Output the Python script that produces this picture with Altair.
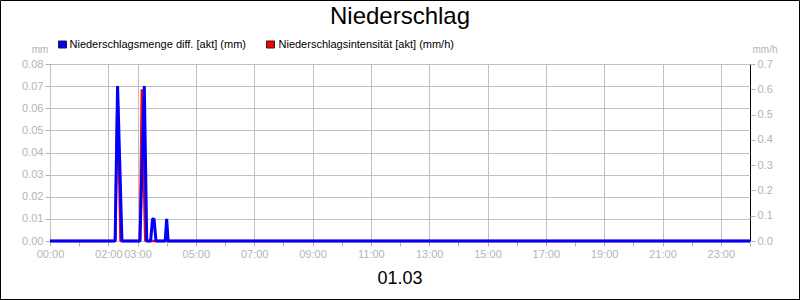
import altair as alt
import pandas as pd

# ---- data ----
blue_times = ["00:00", "02:14", "02:19", "02:28", "03:05", "03:14", "03:19", "03:27",
              "03:31", "03:34", "03:38", "03:57", "04:00", "04:03", "24:00"]
blue_values = [0, 0, 0.07, 0, 0, 0.07, 0, 0, 0.01, 0.01, 0, 0, 0.01, 0, 0]

red_times = ["00:00", "02:14", "02:19", "02:25", "03:05", "03:09", "03:16", "24:00"]
red_values = [0, 0, 0.6, 0, 0, 0.6, 0, 0]

hour_ticks = list(range(25))
label_hours = [0, 2, 3, 5, 7, 9, 11, 13, 15, 17, 19, 21, 23]
left_ticks = [0.0, 0.01, 0.02, 0.03, 0.04, 0.05, 0.06, 0.07, 0.08]
right_ticks = [0.0, 0.1, 0.2, 0.3, 0.4, 0.5, 0.6, 0.7]

title_text = "Niederschlag"
date_text = "01.03"
blue_name = "Niederschlagsmenge diff. [akt] (mm)"
red_name = "Niederschlagsintensität [akt] (mm/h)"
left_unit = "mm"
right_unit = "mm/h"


def to_hours(t):
    h, m = t.split(":")
    return int(h) + int(m) / 60.0


blue_df = pd.DataFrame({"h": [to_hours(t) for t in blue_times], "v": blue_values})
red_df = pd.DataFrame({"h": [to_hours(t) for t in red_times], "v": red_values})
one = pd.DataFrame({"a": [0]})

FONT = "Liberation Sans"
GRAY = "#b4b4b4"
BLUE = "#0000ff"
RED = "#ff0000"

hours_js = "[" + ",".join(str(h) for h in label_hours) + "]"
is_label = f"indexof({hours_js}, datum.value) >= 0"

x_enc = alt.X(
    "h:Q",
    scale=alt.Scale(domain=[0, 24], nice=False, zero=False),
    axis=alt.Axis(
        values=hour_ticks,
        title=None,
        labelExpr=f"{is_label} ? ((datum.value < 10 ? '0' : '') + datum.value + ':00') : ''",
        labelFlush=False,
        labelOverlap=False,
        grid=True,
        gridOpacity={"condition": {"test": is_label, "value": 1}, "value": 0},
    ),
)

red_line = alt.Chart(red_df).mark_line(color=RED, strokeWidth=2.5, strokeJoin="bevel").encode(
    x=x_enc,
    y=alt.Y(
        "v:Q",
        scale=alt.Scale(domain=[0, 0.7], nice=False),
        axis=alt.Axis(orient="right", values=right_ticks, format=".1f", title=None,
                      grid=False, labelFlush=False),
    ),
)

blue_line = alt.Chart(blue_df).mark_line(color=BLUE, strokeWidth=3, strokeJoin="bevel").encode(
    x=x_enc,
    y=alt.Y(
        "v:Q",
        scale=alt.Scale(domain=[0, 0.08], nice=False),
        axis=alt.Axis(orient="left", values=left_ticks, format=".2f", title=None,
                      grid=True, labelFlush=False),
    ),
)


def text_layer(txt, x, y, size, color="black", align="left", baseline="alphabetic"):
    return alt.Chart(one).mark_text(
        text=txt, font=FONT, fontSize=size, color=color, align=align, baseline=baseline
    ).encode(x=alt.value(x), y=alt.value(y))


def square(x1, x2, y1, y2, color):
    return alt.Chart(one).mark_rect(color=color, stroke="#222222", strokeWidth=1).encode(
        x=alt.value(x1), x2=alt.value(x2), y=alt.value(y1), y2=alt.value(y2)
    )


border = alt.Chart(one).mark_rect(fillOpacity=0, stroke="black", strokeWidth=1).encode(
    x=alt.value(-49.5), x2=alt.value(749.5), y=alt.value(-63.5), y2=alt.value(235.5)
)

decor = [
    text_layer(title_text, 350, -40, 24, align="center"),
    text_layer(date_text, 350, 220, 18, align="center"),
    square(8.5, 16.5, -23, -16, BLUE),
    text_layer(blue_name, 19.5, -19.5, 11, baseline="middle"),
    square(216.5, 224.5, -23, -16, RED),
    text_layer(red_name, 228.5, -19.5, 11, baseline="middle"),
    text_layer(left_unit, -10, -11, 10, color=GRAY, align="center"),
    text_layer(right_unit, 715, -11, 10, color=GRAY, align="center"),
    border,
]

chart = (
    alt.layer(red_line, blue_line, *decor)
    .resolve_scale(y="independent")
    .properties(
        width=700,
        height=177,
        padding={"left": 50, "top": 64, "right": 50, "bottom": 59},
        autosize=alt.AutoSizeParams(type="none"),
        background="white",
    )
    .configure_view(stroke="black", strokeWidth=1)
    .configure_axis(
        labelFont=FONT,
        labelFontSize=11,
        labelColor=GRAY,
        tickColor=GRAY,
        tickSize=5,
        labelPadding=2,
        domain=False,
        gridColor="#c0c0c0",
        gridWidth=1,
    )
)

chart.save("out.html", embed_options={"renderer": "svg", "actions": False})
